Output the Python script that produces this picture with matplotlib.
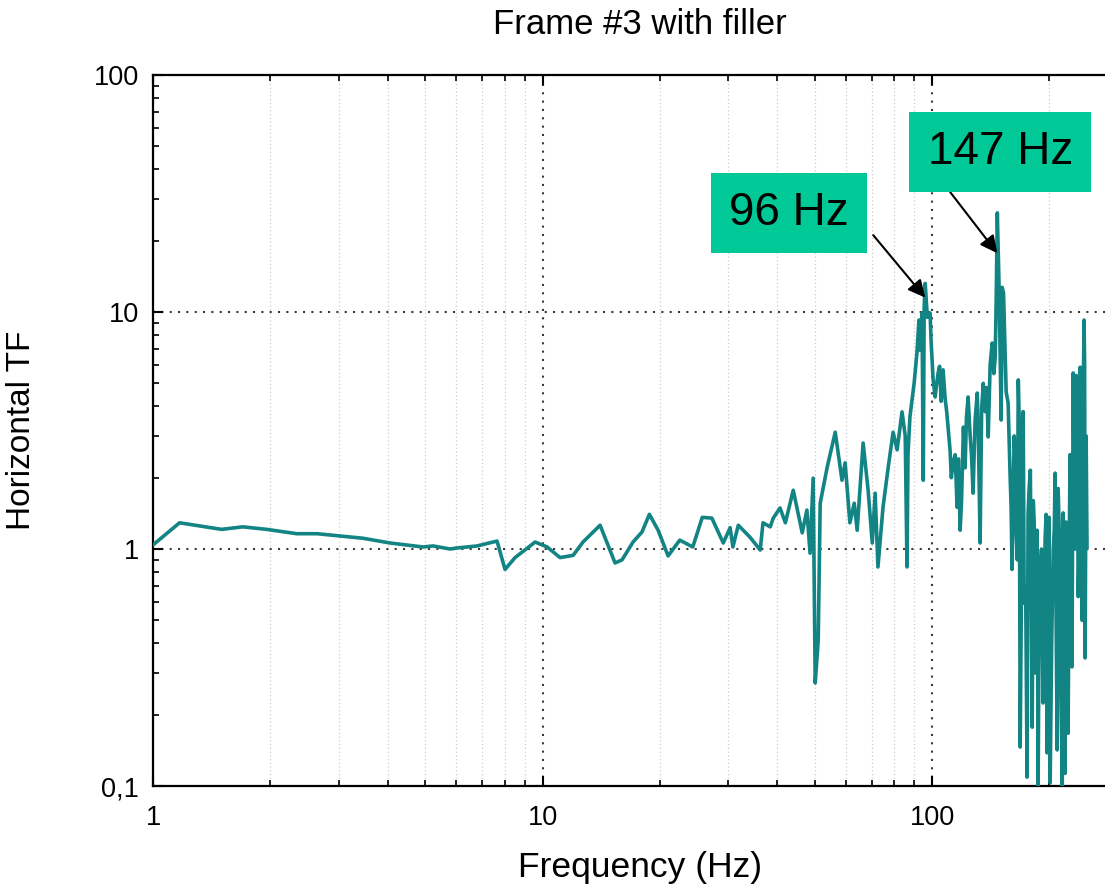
import matplotlib
matplotlib.use("Agg")
import matplotlib.pyplot as plt
from matplotlib.ticker import LogLocator, FuncFormatter, NullFormatter

plt.rcParams['font.family'] = ['Liberation Sans', 'DejaVu Sans']

# horizontal transfer function of frame #3 (with filler), read point by point
# below 100 Hz
freq_low = [1.0, 1.17, 1.50, 1.70, 1.96, 2.34, 2.64, 3.46,
            4.06, 4.93, 5.24, 5.79, 6.03, 6.79, 7.64, 8.01,
            8.50, 9.57, 10.27, 11.09, 11.98, 12.7, 14.05, 15.35,
            16.0, 17.07, 18.0, 18.8, 19.8, 21.0, 22.5, 24.3,
            25.7, 27.2, 29.1, 30.3, 30.8, 31.8, 34.1, 36.2,
            36.8, 38.4, 39.1, 40.7, 42.0, 44.0, 46.4, 47.7,
            48.6, 49.5, 50.1, 51.0, 51.6, 53.8, 56.4, 58.7,
            59.8, 61.5, 63.1, 64.2, 66.5, 68.5, 70.2, 71.4,
            72.6, 74.8, 77.1, 79.4, 81.3, 83.7, 85.3, 86.2,
            86.7, 87.7, 89.9, 91.4, 92.5, 93.1, 94.2, 94.9,
            95.4, 96.0, 97.2, 98.8, 99.4]
tf_low = [1.04, 1.29, 1.21, 1.24, 1.21, 1.16, 1.16, 1.11,
          1.06, 1.02, 1.03, 1.00, 1.01, 1.03, 1.08, 0.82,
          0.92, 1.07, 1.02, 0.92, 0.94, 1.07, 1.26, 0.873,
          0.90, 1.07, 1.18, 1.40, 1.20, 0.935, 1.09, 1.02,
          1.36, 1.35, 1.06, 1.23, 1.02, 1.26, 1.12, 0.99,
          1.29, 1.24, 1.35, 1.49, 1.29, 1.77, 1.17, 1.46,
          0.96, 1.99, 0.272, 0.41, 1.56, 2.22, 3.11, 1.95,
          2.31, 1.29, 1.56, 1.20, 2.80, 1.77, 1.06, 1.72,
          0.84, 1.50, 2.2, 3.11, 2.62, 3.79, 3.0, 0.84,
          2.5, 3.61, 5.0, 6.7, 9.25, 6.9, 9.9, 1.95,
          10.5, 13.2, 9.5, 9.9, 7.5]

# 100 Hz and above
freq_high = [100.6, 101.8, 102.6, 103.6, 104.5, 105.5, 106.7, 108.0,
             109.1, 110.0, 111.2, 112.0, 113.2, 114.6, 115.9, 116.8,
             118.0, 119.0, 120.3, 121.5, 122.5, 123.7, 125.2, 126.2,
             127.4, 128.9, 130.6, 131.5, 132.8, 134.0, 135.3, 136.8,
             138.0, 139.3, 140.9, 142.6, 144.0, 145.2, 146.0, 147.0,
             148.5, 150.4, 151.3, 152.5, 154.9, 156.7, 158.6, 159.5,
             160.4, 161.4, 162.4, 163.3, 164.3, 165.4, 166.4, 167.3,
             168.3, 169.3, 170.3, 171.3, 172.3, 173.8, 175.3, 176.3,
             177.4, 178.7, 179.7, 180.7, 181.8, 182.8, 184.0, 185.0,
             186.0, 187.1, 188.2, 189.3, 190.9, 192.6, 193.8, 195.0,
             196.1, 197.2, 198.4, 199.6, 200.9, 202.7, 204.6, 205.8,
             206.9, 208.1, 209.4, 210.6, 211.9, 213.8, 215.8, 216.9,
             218.1, 219.4, 220.7, 222.0, 223.4, 224.7, 226.0, 227.3,
             228.6, 230.2, 231.5, 232.9, 234.3, 235.7, 237.1, 238.5,
             239.9, 241.3, 242.7, 244.1, 245.5, 246.3, 247.0, 248.5,
             249.8]
tf_high = [5.17, 4.38, 4.9, 5.53, 5.9, 4.2, 5.70, 4.3,
           3.74, 3.2, 2.6, 2.0, 2.31, 2.5, 1.5, 2.4,
           1.20, 1.6, 3.27, 2.2, 3.6, 4.38, 3.0, 2.5,
           1.72, 3.5, 4.55, 2.8, 1.06, 3.9, 5.0, 3.8,
           4.8, 2.97, 6.0, 7.40, 5.5, 6.45, 11.0, 26.2,
           13.0, 3.5, 12.7, 12.0, 4.6, 4.13, 2.0, 1.5,
           0.82, 1.6, 3.0, 2.4, 1.2, 0.9, 5.17, 3.5,
           0.146, 0.5, 2.5, 3.8, 0.59, 0.7, 0.109, 1.4,
           1.8, 2.15, 0.6, 0.177, 1.6, 1.3, 0.3, 0.87,
           1.2, 0.1, 0.5, 0.8, 1.0, 0.224, 0.4, 1.1,
           1.4, 0.138, 0.3, 1.36, 0.103, 0.4, 1.0, 1.2,
           2.09, 0.5, 0.142, 1.8, 1.2, 0.3, 0.10, 1.42,
           0.6, 0.113, 1.3, 1.0, 0.167, 0.9, 2.5, 0.7,
           0.318, 5.53, 1.9, 1.0, 5.4, 4.2, 0.63, 1.0,
           5.85, 2.5, 0.5, 4.0, 9.25, 6.0, 0.347, 3.0,
           1.02]

# labelled resonances: frequency, arrow tip height, arrow tail (Hz, TF), text centre (Hz, TF)
peak_freq = [96, 147]
peak_tip = [11.5, 17.7]
tail_pos = [(70.6, 21.1), (111.2, 32.1)]
label_pos = [(42.9, 26.2), (149.5, 47.3)]

line_color = '#138484'
box_color = '#00c896'

fig = plt.figure(figsize=(11.05, 8.91), dpi=100)
ax = fig.add_axes([153 / 1105, 105 / 891, 965 / 1105, 711 / 891])

ax.plot(freq_low + freq_high, tf_low + tf_high, color=line_color, lw=2.6, zorder=3)

ax.set_xscale('log')
ax.set_yscale('log')
ax.set_xlim(1, 300)
ax.set_ylim(0.1, 100)

ax.xaxis.set_major_locator(LogLocator(base=10, numticks=10))
ax.xaxis.set_minor_locator(LogLocator(base=10, subs=range(2, 10), numticks=50))
ax.yaxis.set_major_locator(LogLocator(base=10, numticks=10))
ax.yaxis.set_minor_locator(LogLocator(base=10, subs=range(2, 10), numticks=50))
comma = FuncFormatter(lambda v, _: f'{v:g}'.replace('.', ','))
ax.xaxis.set_major_formatter(comma)
ax.yaxis.set_major_formatter(comma)
ax.xaxis.set_minor_formatter(NullFormatter())
ax.yaxis.set_minor_formatter(NullFormatter())

ax.tick_params(which='both', direction='in', top=True, right=True, labelsize=19.5)
ax.tick_params(which='major', length=7, width=1.5)
ax.tick_params(which='minor', length=4.5, width=1.2)
ax.tick_params(axis='x', which='major', pad=14)
ax.tick_params(axis='y', which='major', pad=10)
for s in ax.spines.values():
    s.set_linewidth(1.6)

ax.grid(which='major', axis='both', color='#3a3a3a', lw=1.5, linestyle=(0, (1, 3)))
ax.grid(which='minor', axis='x', color='#cccccc', lw=0.9, linestyle=(0, (1, 2)))
ax.set_axisbelow(True)

ax.set_xlabel('Frequency (Hz)', fontsize=25.5)
ax.xaxis.set_label_coords(0.505, -0.092)
ax.set_ylabel('Horizontal TF', fontsize=24)
ax.yaxis.set_label_coords(-0.12, 0.5)
fig.text(640 / 1105, 1 - 25 / 891, 'Frame #3 with filler', fontsize=25,
         ha='center', va='center')

for f, tip, tail, pos in zip(peak_freq, peak_tip, tail_pos, label_pos):
    ax.annotate('', xy=(f, tip), xytext=tail,
                arrowprops=dict(arrowstyle='-|>', color='black', lw=1.5,
                                mutation_scale=26, shrinkA=0, shrinkB=0),
                zorder=5)
    ax.text(pos[0], pos[1], f'{f} Hz', fontsize=33, ha='center', va='center',
            bbox=dict(boxstyle='square,pad=0.4', fc=box_color, ec='none'),
            zorder=6)

fig.savefig('out.png', dpi=100)
